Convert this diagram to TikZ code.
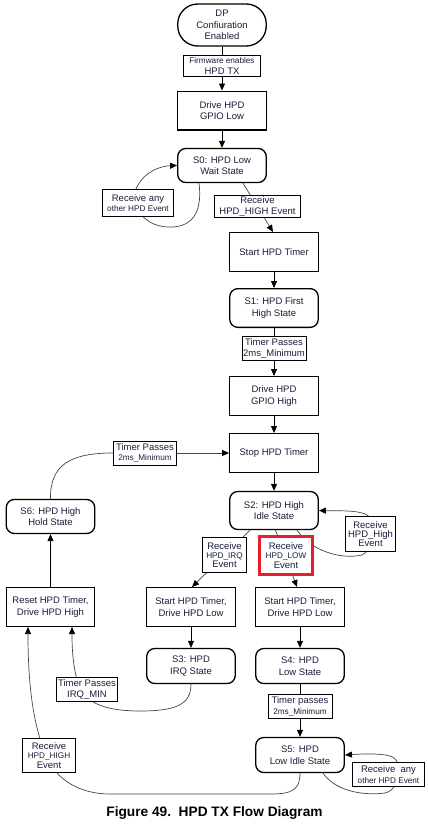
\documentclass[tikz,border=0pt]{standalone}
\usepackage{fontspec}
\setmainfont{Liberation Sans}
\usetikzlibrary{arrows.meta}
\pgfdeclarelayer{bg}
\pgfsetlayers{bg,main}
\definecolor{tx}{RGB}{25,30,60}
\definecolor{ln}{RGB}{70,70,70}
\definecolor{rd}{RGB}{232,30,40}
\newcommand\ftN{\fontsize{9.5}{11.5}\selectfont}
\newcommand\ftL{\fontsize{9.5}{10.5}\selectfont}
\newcommand\ftT{\fontsize{9.5}{9.4}\selectfont}
\newcommand\ftS{\fontsize{8.2}{10}\selectfont}
\begin{document}
\begin{tikzpicture}[x=1pt,y=-1pt,
  proc/.style={draw, line width=1.3pt, fill=white, minimum width=88.5pt, minimum height=38.7pt, align=center, font=\ftN, text=tx, inner sep=1pt},
  state/.style={proc, rounded corners=8pt},
  term/.style={proc, rounded corners=20pt, minimum height=42pt},
  lab/.style={draw, line width=0.7pt, fill=white, align=center, font=\ftL, text=tx, inner sep=0.5pt},
  lab3/.style={lab, font=\ftT},
  arr/.style={line width=0.9pt, -{Triangle[length=7pt,width=6pt]}},
  pln/.style={line width=0.9pt},
  garr/.style={ln, line width=0.7pt, -{Triangle[length=7pt,width=6pt,color=black]}},
  gln/.style={ln, line width=0.7pt}]
\useasboundingbox (0,0) rectangle (428,827);

% nodes
\node[term] (dp) at (222,25) {DP\\Confiuration\\Enabled};
\node[lab, minimum width=77pt, minimum height=21pt] (l1) at (222,66) {{\ftS Firmware enables}\\HPD TX};
\node[proc] (dlow) at (222,110.5) {Drive HPD\\GPIO Low};
\node[state, minimum height=34pt] (s0) at (222,165.5) {S0: HPD Low\\Wait State};
\node[lab, minimum width=71pt, minimum height=27pt] (l0) at (138,203) {Receive any\\{\ftS other HPD Event}};
\node[lab, minimum width=86pt, minimum height=22pt] (l2) at (257.5,206.5) {Receive\\HPD\_HIGH Event};
\node[proc] (st1) at (274,252) {Start HPD Timer};
\node[state] (s1) at (274,308) {S1: HPD First\\High State};
\node[lab, minimum width=64pt, minimum height=24pt] (l3) at (274,348.5) {Timer Passes\\2ms\_Minimum};
\node[proc] (dhigh) at (274,396) {Drive HPD\\GPIO High};
\node[proc] (stop) at (274,453) {Stop HPD Timer};
\node[state, minimum height=38pt] (s2) at (274,510.5) {S2: HPD High\\Idle State};
\node[lab, minimum width=63pt, minimum height=24pt] (l4) at (145,453) {Timer Passes\\{\ftS 2ms\_Minimum}};
\node[state, minimum height=34pt] (s6) at (50.5,516.5) {S6: HPD High\\Hold State};
\node[proc] (reset) at (50.5,607) {Reset HPD Timer,\\Drive HPD High};
\node[lab3, minimum width=44pt, minimum height=35pt] (l5) at (224.5,555) {Receive\\{\ftS HPD\_IRQ}\\Event};
\node[draw=rd, line width=3pt, fill=white, minimum width=53pt, minimum height=38pt, align=center, font=\ftT, text=tx, inner sep=0pt] (l6) at (286,555.5) {Receive\\{\ftS HPD\_LOW}\\Event};
\node[lab3, minimum width=50pt, minimum height=35pt] (l7) at (370.5,534) {Receive\\HPD\_High\\Event};
\node[proc] (stL) at (191,607) {Start HPD Timer,\\Drive HPD Low};
\node[proc] (stR) at (300,607) {Start HPD Timer,\\Drive HPD Low};
\node[state, minimum height=35pt] (s3) at (191,666) {S3: HPD\\IRQ State};
\node[state, minimum height=35pt] (s4) at (300,666) {S4: HPD\\Low State};
\node[lab, minimum width=64pt, minimum height=24pt] (l8) at (300,706.5) {Timer passes\\{\ftS 2ms\_Minimum}};
\node[state, minimum height=35pt] (s5) at (300,755) {S5: HPD\\Low Idle State};
\node[lab, minimum width=72pt, minimum height=24pt] (l9) at (388.5,774.5) {Receive~~any\\{\ftS other HPD Event}};
\node[lab, minimum width=61pt, minimum height=24pt] (l10) at (87,689.5) {Timer Passes\\IRQ\_MIN};
\node[lab3, minimum width=53pt, minimum height=34pt] (l11) at (49,755.5) {Receive\\{\ftS HPD\_HIGH}\\Event};
\node[font=\bfseries\fontsize{13.7}{15}\selectfont, inner sep=0pt] (cap) at (214.5,813) {Figure 49.\ \ HPD TX Flow Diagram};

% connectors
\begin{pgfonlayer}{bg}
\fill[white] (0,0) rectangle (428,827);
\draw[pln] (dp) -- (l1);
\draw[arr] (l1) -- (dlow);
\draw[arr] (dlow) -- (s0);
\draw[garr] ([xshift=-23pt]s0.south) .. controls (203,215) and (190,228) .. (168,227)
  .. controls (140,226) and (128,200) .. (138,185)
  .. controls (145,172) and (160,166) .. (s0.west);
\draw[garr] ([xshift=21pt]s0.south) -- ([xshift=-1pt]st1.north);
\draw[arr] (st1) -- (s1);
\draw[pln] (s1) -- (l3);
\draw[arr] (l3) -- (dhigh);
\draw[arr] (dhigh) -- (stop);
\draw[arr] (stop) -- (s2);
\draw[gln] (s6.north) .. controls (50,465) and (70,453) .. (l4.west);
\draw[garr] (l4.east) -- (stop.west);
\draw[arr] (reset) -- (s6);
\draw[garr] ([xshift=-24pt]s2.south) -- ([xshift=1pt]stL.north);
\draw[garr] ([xshift=1.5pt]s2.south) -- ([xshift=-3pt]stR.north);
\draw[garr] ([xshift=23pt]s2.south) .. controls (310,550) and (340,560) .. (362,555)
  .. controls (375,548) and (380,520) .. (365,514)
  .. controls (355,510) and (340,511) .. (s2.east);
\draw[arr] (stL) -- (s3);
\draw[arr] (stR) -- (s4);
\draw[pln] (s4) -- (l8);
\draw[arr] (l8) -- (s5);
\draw[garr] (s3.south) .. controls (191,705) and (175,711) .. (140,711)
  .. controls (110,711) and (90,705) .. (80,690)
  .. controls (73,670) and (72,650) .. ([xshift=21.5pt]reset.south);
\draw[garr] (s5.south) .. controls (300,790) and (292,794) .. (270,794) -- (110,794)
  .. controls (80,794) and (58,780) .. (48,760)
  .. controls (32,725) and (28,680) .. ([xshift=-22.5pt]reset.south);
\draw[garr] ([xshift=23pt]s5.south) .. controls (335,790) and (360,796) .. (385,793)
  .. controls (400,790) and (405,760) .. (390,756)
  .. controls (380,753) and (360,754) .. (s5.east);
\end{pgfonlayer}
\end{tikzpicture}
\end{document}
